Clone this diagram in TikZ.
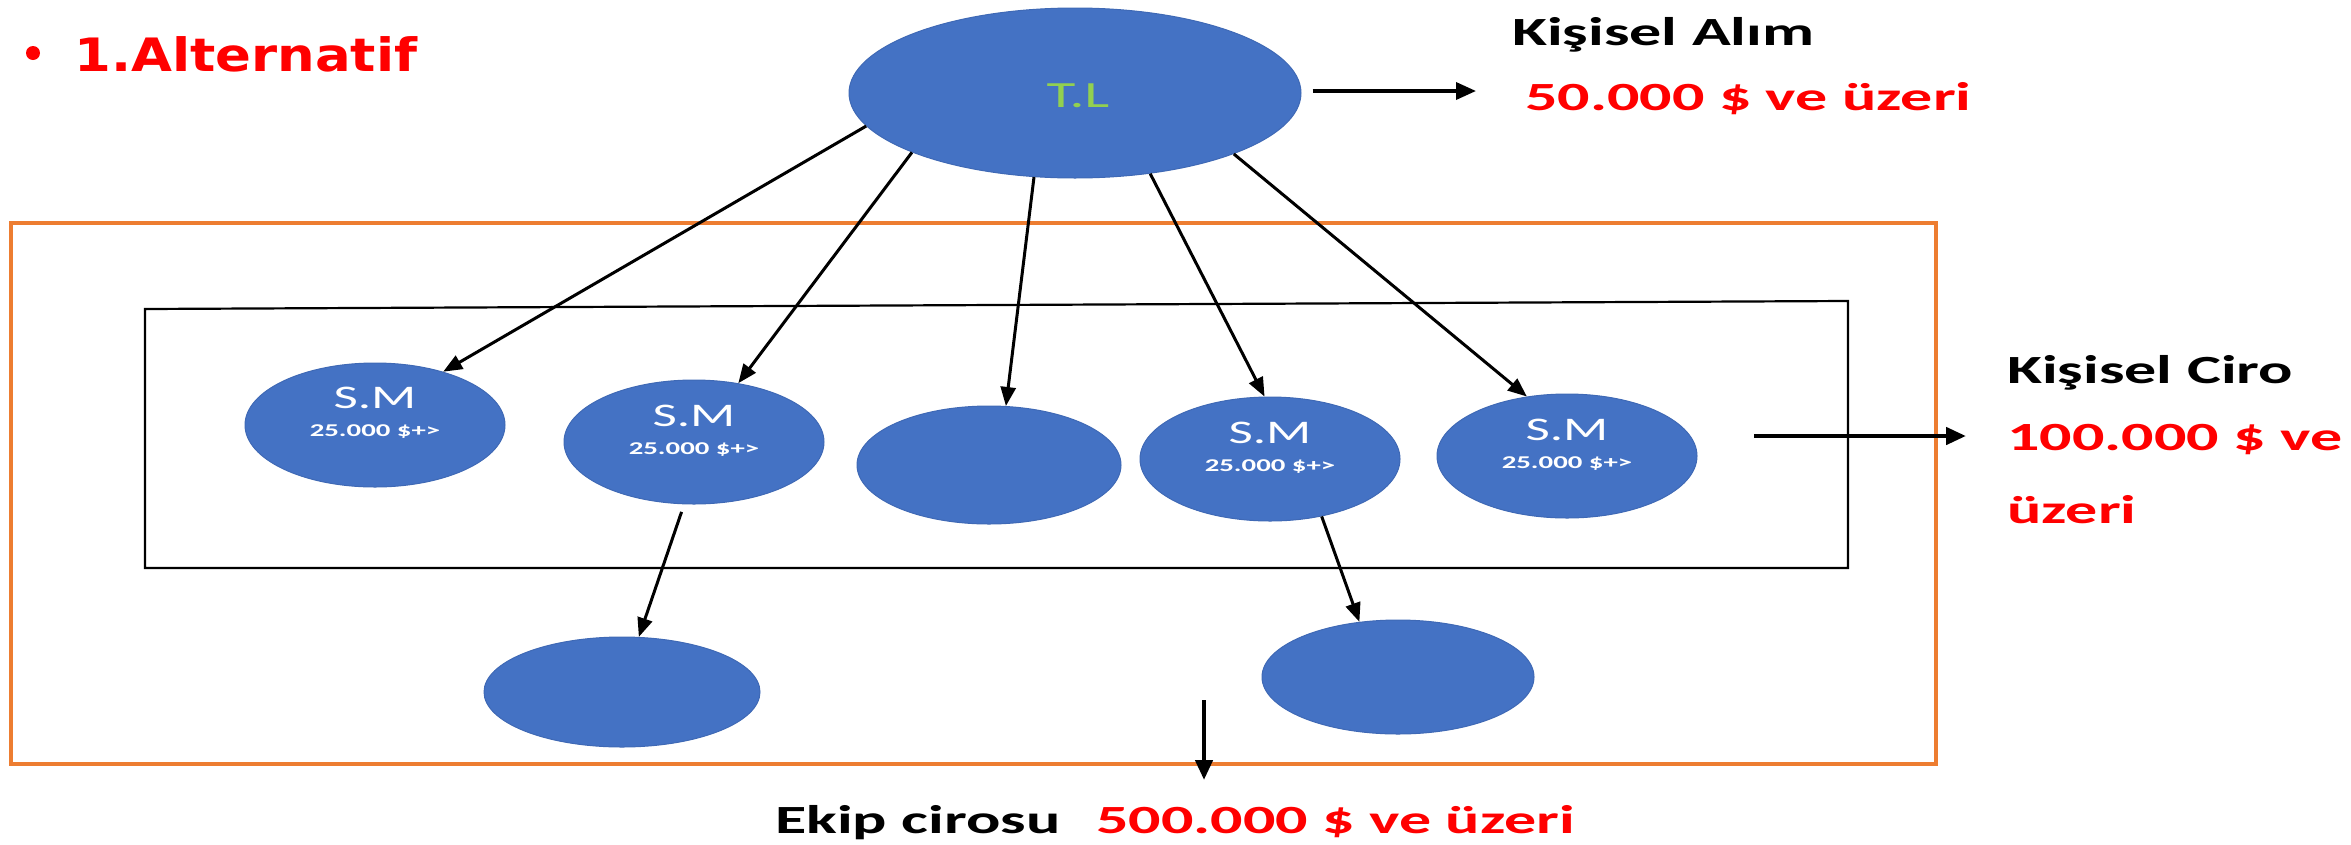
\documentclass[tikz,border=0pt]{standalone}
\usepackage{fontspec}
\setmainfont{Carlito}
\newfontfamily\calb[FakeStretch=1.6]{Carlito}
\newfontfamily\altf[FakeStretch=1.15]{DejaVu Sans}
\usetikzlibrary{arrows.meta,shapes.geometric}
\definecolor{nodeblue}{HTML}{4472C4}
\definecolor{nodeedge}{HTML}{3F69B5}
\definecolor{boxorange}{HTML}{ED7D31}
\definecolor{tlgreen}{HTML}{92D050}
\definecolor{txtred}{HTML}{FF0000}
\tikzset{
  blob/.style={ellipse, fill=nodeblue, draw=nodeedge, line width=1pt, inner sep=0pt, minimum width=260pt, minimum height=124pt},
  conn/.style={line width=3pt, -{Triangle[length=19pt,width=15pt]}},
  bigarrow/.style={line width=4.5pt, -{Triangle[length=20pt,width=17pt]}},
  bigtxt/.style={anchor=base west, inner sep=0pt, font=\calb\bfseries\fontsize{40}{48}\selectfont},
  redtxt/.style={bigtxt, text=txtred},
  smtxt/.style={anchor=base, inner sep=0pt, text=white, font=\calb\fontsize{33}{38}\selectfont},
  smsub/.style={anchor=base, inner sep=0pt, text=white, font=\calb\bfseries\fontsize{18}{22}\selectfont},
}
\begin{document}
\begin{tikzpicture}[x=1pt,y=-1pt]
\useasboundingbox (0,0) rectangle (2351,844);
% boxes
\draw[boxorange, line width=4pt] (11,223) rectangle (1936,764);
\draw[black, line width=2.2pt] (145,309) -- (1848,301) -- (1848,568) -- (145,568) -- cycle;
% heading
\fill[txtred] (33,53) circle (7);
\node[anchor=base west, inner sep=0pt, text=txtred, font=\altf\bfseries\fontsize{46}{54}\selectfont] (alt) at (74,71) {1.Alternatif};
% top node
\node[blob, minimum width=452pt, minimum height=170pt] (tl) at (1075,93) {};
\node[anchor=base, inner sep=0pt, text=tlgreen, font=\calb\fontsize{37}{42}\selectfont] (tltxt) at (1078,107) {T.L};
% middle nodes
\node[blob] (sm1) at (375,425) {};
\node[blob] (sm2) at (694,442) {};
\node[blob, minimum width=264pt, minimum height=118pt] (sm3) at (989,465) {};
\node[blob] (sm4) at (1270,459) {};
\node[blob] (sm5) at (1567,456) {};
\node[smtxt] (sm1a) at (375,408) {S.M};
\node[smsub] (sm1b) at (375,436) {25.000 \$+>};
\node[smtxt] (sm2a) at (694,426) {S.M};
\node[smsub] (sm2b) at (694,454) {25.000 \$+>};
\node[smtxt] (sm4a) at (1270,443) {S.M};
\node[smsub] (sm4b) at (1270,471) {25.000 \$+>};
\node[smtxt] (sm5a) at (1567,440) {S.M};
\node[smsub] (sm5b) at (1567,468) {25.000 \$+>};
% bottom nodes
\node[blob, minimum width=276pt, minimum height=110pt] (ea) at (622,692) {};
\node[blob, minimum width=272pt, minimum height=114pt] (eb) at (1398,677) {};
% connectors
\draw[conn] (tl.189) -- (sm1.38);
\draw[conn] (tl.200) -- (sm2.53);
\draw[conn] (tl.244) -- (sm3.74);
\draw[conn] (tl.313) -- (sm4.95);
\draw[conn] (tl.339) -- (sm5.124);
\draw[conn, shorten <=8pt] (sm2.261) -- (ea.73);
\draw[conn] (sm4.312) -- (eb.125);
% side texts
\coordinate (r1e) at (1476,91);
\draw[bigarrow, line width=3.5pt, shorten <=11pt] (tl.east |- r1e) -- (r1e);
\node[bigtxt] (alim) at (1512,45) {Kişisel Alım};
\node[redtxt] (alimv) at (1525,110) {50.000 \$ ve üzeri};
\coordinate (r2s) at (1754,436);
\coordinate (r2e) at (1966,436);
\draw[bigarrow] (r2s) -- (r2e);
\node[bigtxt] (ciro) at (2007,383) {Kişisel Ciro};
\node[redtxt] (cirov1) at (2007,450) {100.000 \$ ve};
\node[redtxt] (cirov2) at (2007,523) {üzeri};
\coordinate (r3s) at (1204,700);
\coordinate (r3e) at (1204,780);
\draw[bigarrow] (r3s) -- (r3e);
\node[bigtxt] (ekip) at (775,833) {Ekip cirosu};
\node[redtxt] (ekipv) at (1096,833) {500.000 \$ ve üzeri};
\end{tikzpicture}
\end{document}
